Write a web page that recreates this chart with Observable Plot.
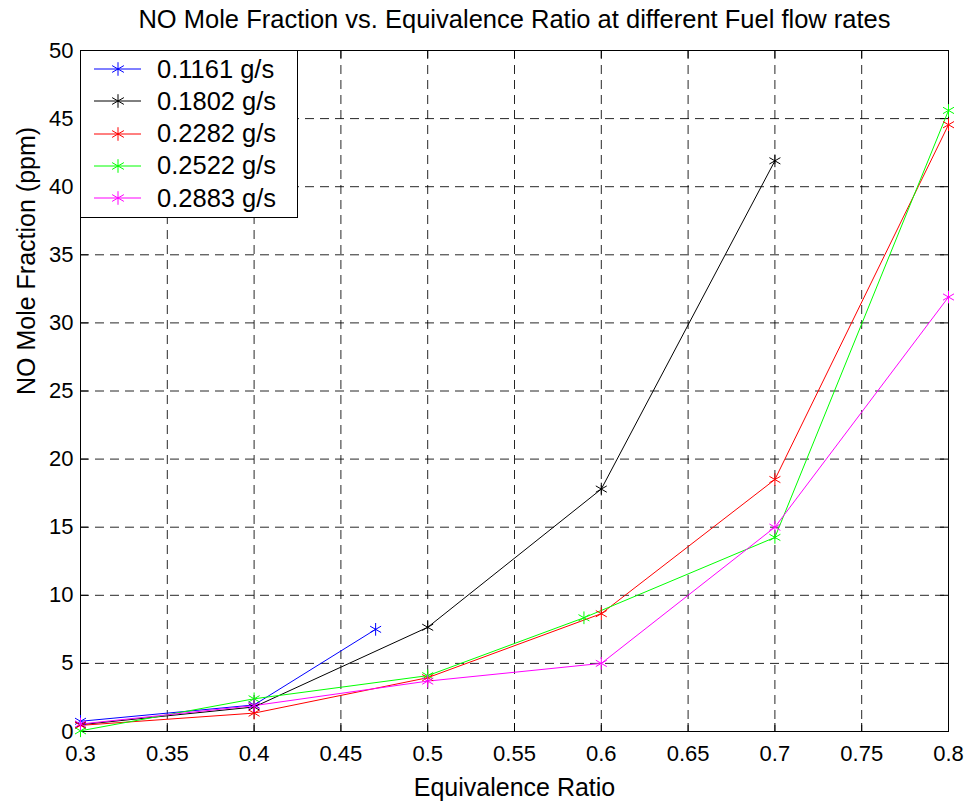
<!DOCTYPE html>
<html>
<head>
<meta charset="utf-8">
<script src="https://cdn.jsdelivr.net/npm/d3@7"></script>
<script src="https://cdn.jsdelivr.net/npm/@observablehq/plot@0.6"></script>
<style>
  html, body { margin: 0; padding: 0; background: #fff; }
  #wrap { position: relative; width: 968px; height: 803px; font-family: "Liberation Sans", Arial, Helvetica, sans-serif; }
  #legend { position: absolute; left: 80px; top: 50px; width: 218px; height: 168px; border: 1px solid #000; background: #fff; box-sizing: border-box; }
  .lg-row { position: absolute; left: 0; height: 32px; display: flex; align-items: center; }
  .lg-row span { font-size: 25.5px; color: #000; margin-left: 16px; white-space: nowrap; }
</style>
</head>
<body>
<div id="wrap"></div>
<script>
const title = "NO Mole Fraction vs. Equivalence Ratio at different Fuel flow rates";
const xLabel = "Equivalence Ratio";
const yLabel = "NO Mole Fraction (ppm)";
const xTicks = [0.3, 0.35, 0.4, 0.45, 0.5, 0.55, 0.6, 0.65, 0.7, 0.75, 0.8];
const yTicks = [0, 5, 10, 15, 20, 25, 30, 35, 40, 45, 50];

const seriesNames = ["0.1161 g/s", "0.1802 g/s", "0.2282 g/s", "0.2522 g/s", "0.2883 g/s"];
const seriesColors = ["#0000ff", "#000000", "#ff0000", "#00ff00", "#ff00ff"];

const phi1 = [0.3, 0.4, 0.47];
const no1  = [0.75, 1.95, 7.5];
const phi2 = [0.3, 0.4, 0.5, 0.6, 0.7];
const no2  = [0.5, 1.8, 7.65, 17.8, 41.9];
const phi3 = [0.3, 0.4, 0.5, 0.6, 0.7, 0.8];
const no3  = [0.45, 1.35, 3.95, 8.65, 18.5, 44.55];
const phi4 = [0.3, 0.4, 0.5, 0.59, 0.7, 0.8];
const no4  = [0.05, 2.4, 4.1, 8.35, 14.25, 45.6];
const phi5 = [0.3, 0.4, 0.5, 0.6, 0.7, 0.8];
const no5  = [0.55, 1.9, 3.7, 5.0, 15.0, 31.9];

const phis = [phi1, phi2, phi3, phi4, phi5];
const nos = [no1, no2, no3, no4, no5];
const data = [];
phis.forEach((p, i) => p.forEach((x, j) => data.push({series: seriesNames[i], phi: x, no: nos[i][j]})));

const font = '"Liberation Sans", Arial, Helvetica, sans-serif';
const W = 968, H = 803, ML = 80, MR = 20, MT = 50, MB = 72;
const fw = W - ML - MR, fh = H - MT - MB, tk = 8;

const chart = Plot.plot({
  width: W,
  height: H,
  marginLeft: ML,
  marginRight: MR,
  marginTop: MT,
  marginBottom: MB,
  style: {fontFamily: font, fontSize: "22px", color: "#000", background: "#fff"},
  x: {domain: [0.3, 0.8]},
  y: {domain: [0, 50]},
  color: {domain: seriesNames, range: seriesColors},
  marks: [
    Plot.gridX(xTicks, {stroke: "#000", strokeOpacity: 0.85, strokeDasharray: "9,6"}),
    Plot.gridY(yTicks, {stroke: "#000", strokeOpacity: 0.85, strokeDasharray: "9,6"}),
    Plot.tickX(xTicks, {x: d => d, insetTop: fh - tk, stroke: "#000"}),
    Plot.tickX(xTicks, {x: d => d, insetBottom: fh - tk, stroke: "#000"}),
    Plot.tickY(yTicks, {y: d => d, insetRight: fw - tk, stroke: "#000"}),
    Plot.tickY(yTicks, {y: d => d, insetLeft: fw - tk, stroke: "#000"}),
    Plot.axisX(xTicks, {tickSize: 0, tickPadding: 14, tickFormat: d => String(d), fontSize: 22,
      label: null}),
    Plot.axisY(yTicks, {tickSize: 0, tickPadding: 7, tickFormat: d => String(d), fontSize: 22,
      label: null}),
    Plot.frame({stroke: "#000"}),
    Plot.line(data, {x: "phi", y: "no", z: "series", stroke: "series", strokeWidth: 1}),
    Plot.dot(data, {x: "phi", y: "no", stroke: "series", symbol: "asterisk", r: 6, strokeWidth: 1}),
    Plot.text([title], {frameAnchor: "top", lineAnchor: "middle", dy: -31, fontSize: 25.5, fill: "#000"}),
    Plot.text([xLabel], {frameAnchor: "bottom", lineAnchor: "middle", dy: 56, fontSize: 25, fill: "#000"}),
    Plot.text([yLabel], {frameAnchor: "left", lineAnchor: "middle", rotate: -90, dx: -54, dy: 4, fontSize: 25, fill: "#000"})
  ]
});

const wrap = document.getElementById("wrap");
wrap.appendChild(chart);

// Legend
const legend = document.createElement("div");
legend.id = "legend";
const starPath = d3.symbol(d3.symbolAsterisk, 130)();
seriesNames.forEach((name, i) => {
  const row = document.createElement("div");
  row.className = "lg-row";
  row.style.top = (2 + i * 32.3) + "px";
  row.innerHTML = `<svg width="60" height="32" style="display:block"><line x1="13" x2="60" y1="16" y2="16" stroke="${seriesColors[i]}" stroke-width="1"/><path d="${starPath}" transform="translate(37,16)" fill="none" stroke="${seriesColors[i]}" stroke-width="1"/></svg><span>${name}</span>`;
  legend.appendChild(row);
});
wrap.appendChild(legend);
</script>
</body>
</html>
